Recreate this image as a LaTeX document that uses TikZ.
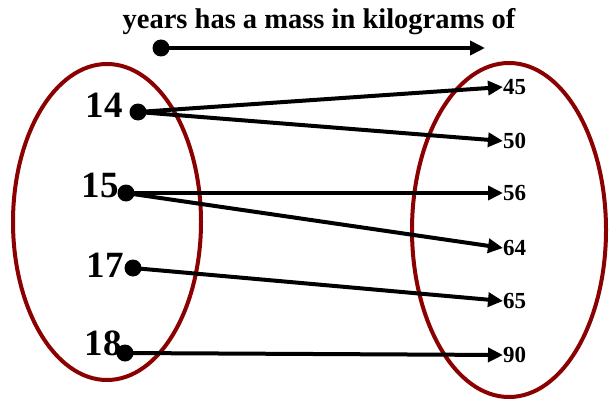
\documentclass[tikz,border=0pt]{standalone}
\usepackage{fontspec}
\setmainfont{Liberation Serif}
\usetikzlibrary{arrows.meta}
\definecolor{setred}{HTML}{8B0000}
\begin{document}
\begin{tikzpicture}[x=1pt,y=-1pt,
  dot/.style={circle,fill=black,inner sep=0pt,minimum size=17pt},
  dom/.style={font=\fontsize{37}{37}\selectfont\bfseries,inner sep=0pt},
  rng/.style={font=\fontsize{23}{23}\selectfont\bfseries,inner sep=0pt,anchor=west},
  maparrow/.style={line width=4pt,-{Triangle[length=15pt,width=14pt]}},
  setoval/.style={draw=setred,line width=4pt}]
\useasboundingbox (0,0) rectangle (609,401);
% title
\node[font=\fontsize{28.5}{28.5}\selectfont\bfseries,inner sep=0pt] (title) at (319,22) {years has a mass in kilograms of};
\node[dot] (t0) at (161,48) {};
\coordinate (t1) at (485,48);
\draw[maparrow] (t0.center) -- (t1);
% sets
\draw[setoval] (107,222) ellipse [x radius=94, y radius=158];
\draw[setoval] (509,230) ellipse [x radius=97, y radius=167];
% domain
\node[dom] (n14) at (104,105) {14};
\node[dom] (n15) at (100,185) {15};
\node[dom] (n17) at (105,265) {17};
\node[dom] (n18) at (103,343) {18};
\node[dot] (d14) at (138,112) {};
\node[dot] (d15) at (126,193) {};
\node[dot] (d17) at (133,268) {};
\node[dot] (d18) at (125,353) {};
% range
\node[rng] (r45) at (503,87) {45};
\node[rng] (r50) at (503,141) {50};
\node[rng] (r56) at (503,193) {56};
\node[rng] (r64) at (503,248) {64};
\node[rng] (r65) at (503,301) {65};
\node[rng] (r90) at (503,355) {90};
% arrows
\draw[maparrow] (d14.center) -- (r45.west);
\draw[maparrow] (d14.center) -- (r50.west);
\draw[maparrow] (d15.center) -- (r56.west);
\draw[maparrow] (d15.center) -- (r64.west);
\draw[maparrow] (d17.center) -- (r65.west);
\draw[maparrow] (d18.center) -- (r90.west);
\end{tikzpicture}
\end{document}
